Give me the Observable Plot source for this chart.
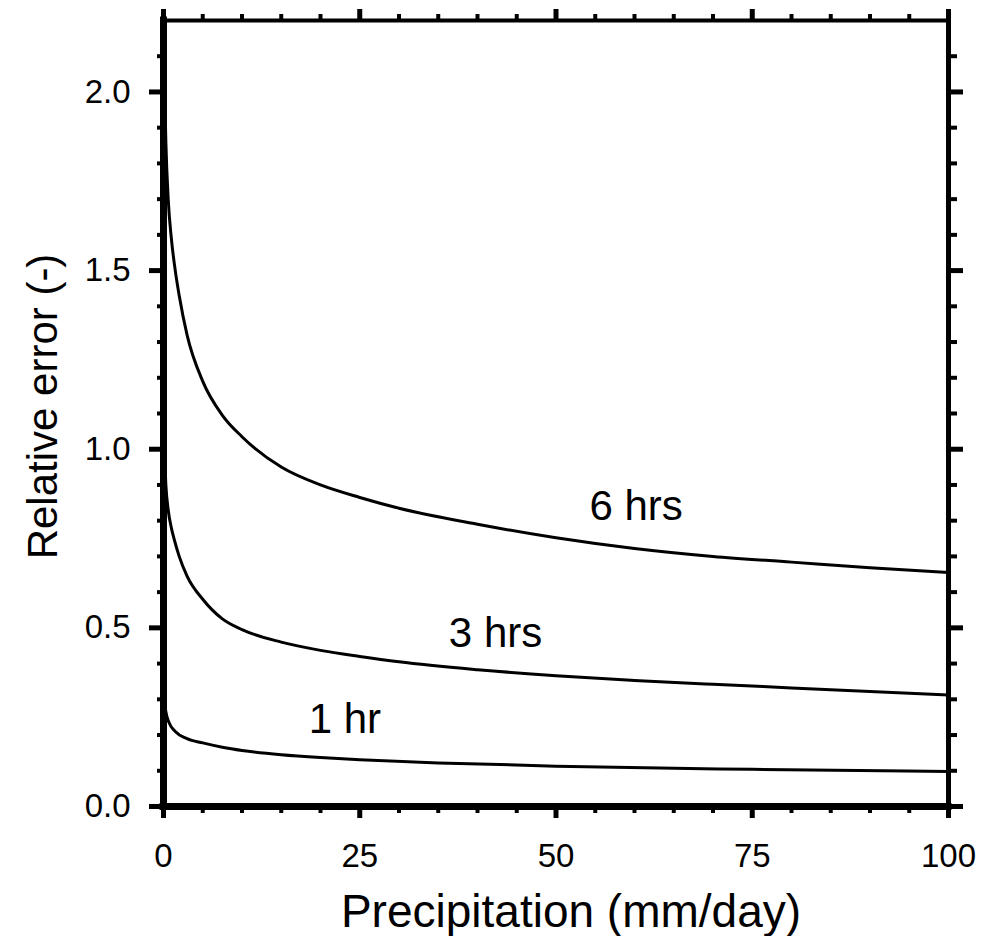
<!DOCTYPE html>
<html>
<head>
<meta charset="utf-8">
<script src="https://cdn.jsdelivr.net/npm/d3@7"></script>
<script src="https://cdn.jsdelivr.net/npm/@observablehq/plot@0.6"></script>
<style>
  html, body { margin: 0; padding: 0; background: #fff; }
  #chart { width: 983px; height: 936px; }
</style>
</head>
<body>
<div id="chart"></div>
<script>
// ---- Data ----
const x6 = [0.15, 0.3, 0.6, 1.0, 1.5, 2, 3, 5, 7.5, 10, 15, 20, 25, 30, 40, 50, 60, 70, 80, 90, 100];
const y6 = [2.0, 1.86, 1.70, 1.59, 1.50, 1.43, 1.32, 1.19, 1.095, 1.035, 0.95, 0.90, 0.865, 0.835, 0.79, 0.752, 0.722, 0.70, 0.684, 0.668, 0.655];

const x3 = [0.1, 0.3, 0.6, 1.0, 1.4, 2, 3, 5, 7.5, 10, 15, 20, 25, 30, 40, 50, 60, 70, 80, 90, 100];
const y3 = [1.0, 0.90, 0.83, 0.78, 0.745, 0.70, 0.645, 0.58, 0.525, 0.495, 0.46, 0.437, 0.42, 0.405, 0.383, 0.366, 0.353, 0.342, 0.332, 0.322, 0.312];

const x1 = [0.1, 0.3, 0.7, 1.5, 3, 5, 7.5, 10, 15, 20, 25, 35, 50, 75, 100];
const y1 = [0.30, 0.265, 0.235, 0.21, 0.19, 0.178, 0.166, 0.157, 0.145, 0.137, 0.131, 0.122, 0.113, 0.104, 0.098];

const seriesNames = ["6 hrs", "3 hrs", "1 hr"];
const labelX = [60.2, 42.3, 23.1];
const labelY = [0.839, 0.483, 0.242];

const xMajorTicks = [0, 25, 50, 75, 100];
const xTickLabels = ["0", "25", "50", "75", "100"];
const xMinorTicks = [5, 10, 15, 20, 30, 35, 40, 45, 55, 60, 65, 70, 80, 85, 90, 95];
const yMajorTicks = [0, 0.5, 1.0, 1.5, 2.0];
const yTickLabels = ["0.0", "0.5", "1.0", "1.5", "2.0"];
const yMinorTicks = [0.1, 0.2, 0.3, 0.4, 0.6, 0.7, 0.8, 0.9, 1.1, 1.2, 1.3, 1.4, 1.6, 1.7, 1.8, 1.9, 2.1];

const xTitle = "Precipitation (mm/day)";
const yTitle = "Relative error (-)";

// ---- Build tables ----
const rows = [];
[[x6, y6, seriesNames[0]], [x3, y3, seriesNames[1]], [x1, y1, seriesNames[2]]].forEach(([xs, ys, name]) => {
  xs.forEach((x, i) => rows.push({ x, y: ys[i], series: name }));
});
const labels = seriesNames.map((t, i) => ({ t, x: labelX[i], y: labelY[i] }));

const chart = Plot.plot({
  width: 983,
  height: 936,
  marginLeft: 163,
  marginRight: 35,
  marginTop: 20,
  marginBottom: 130,
  style: { fontFamily: "'Liberation Sans', Arial, sans-serif", background: "#fff", color: "#000" },
  x: { domain: [0, 100] },
  y: { domain: [0, 2.2] },
  marks: [
    Plot.line(rows, { x: "x", y: "y", z: "series", stroke: "#000", strokeWidth: 3, curve: "monotone-x" }),
    Plot.text(labels, { x: "x", y: "y", text: "t", fontSize: 42, fill: "#000" }),
    // frame
    Plot.ruleX([0], { stroke: "#000", strokeWidth: 7, strokeLinecap: "square" }),
    Plot.ruleX([100], { stroke: "#000", strokeWidth: 5, strokeLinecap: "square" }),
    Plot.ruleY([0], { stroke: "#000", strokeWidth: 7, strokeLinecap: "square" }),
    Plot.ruleY([2.2], { stroke: "#000", strokeWidth: 4, strokeLinecap: "square" }),
    // bottom axis
    Plot.axisX(xMajorTicks, { anchor: "bottom", tickSize: 12, tickPadding: 25, strokeWidth: 5, fontSize: 33,
      tickFormat: (d) => xTickLabels[xMajorTicks.indexOf(d)], label: null }),
    Plot.axisX(xMinorTicks, { anchor: "bottom", tickSize: 7, strokeWidth: 4, fill: "none", label: null }),
    // top axis
    Plot.axisX(xMajorTicks, { anchor: "top", tickSize: 12, strokeWidth: 5, fill: "none", label: null }),
    Plot.axisX(xMinorTicks, { anchor: "top", tickSize: 7, strokeWidth: 4, fill: "none", label: null }),
    // left axis
    Plot.axisY(yMajorTicks, { anchor: "left", tickSize: 14, tickPadding: 19, strokeWidth: 5, fontSize: 33,
      tickFormat: (d) => yTickLabels[yMajorTicks.indexOf(d)], label: null }),
    Plot.axisY(yMinorTicks, { anchor: "left", tickSize: 6, strokeWidth: 4, fill: "none", label: null }),
    // right axis
    Plot.axisY(yMajorTicks, { anchor: "right", tickSize: 14, strokeWidth: 5, fill: "none", label: null }),
    Plot.axisY(yMinorTicks, { anchor: "right", tickSize: 8, strokeWidth: 4, fill: "none", label: null }),
    // titles
    Plot.text([xTitle], { frameAnchor: "bottom", textAnchor: "middle", lineAnchor: "middle", dy: 106, dx: 15,
      text: d => d, fontSize: 46, fill: "#000" }),
    Plot.text([yTitle], { frameAnchor: "left", textAnchor: "middle", lineAnchor: "middle", dx: -120, dy: -7,
      rotate: -90, text: d => d, fontSize: 42, fill: "#000" })
  ]
});
document.getElementById("chart").appendChild(chart);
</script>
</body>
</html>
